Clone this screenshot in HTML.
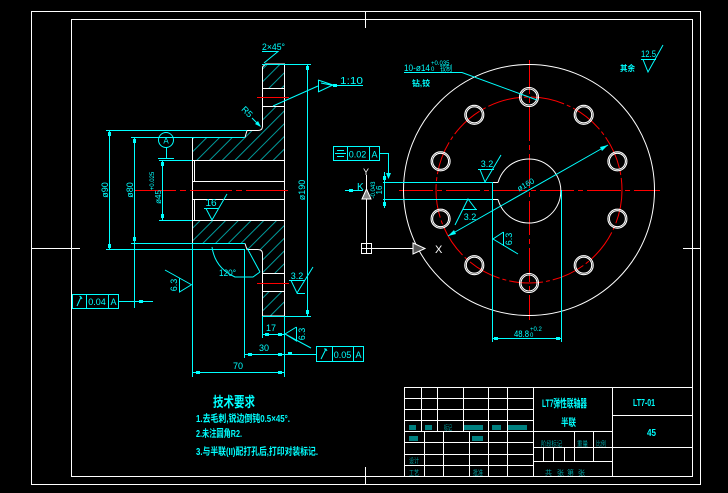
<!DOCTYPE html>
<html><head><meta charset="utf-8"><style>
html,body{margin:0;padding:0;background:#000;width:728px;height:493px;overflow:hidden}
svg{display:block}
text{font-family:"Liberation Sans","Noto Sans CJK SC",sans-serif}
</style></head><body>
<svg width="728" height="493" viewBox="0 0 728 493" xmlns="http://www.w3.org/2000/svg">
<defs>
<pattern id="h" width="9" height="9" patternUnits="userSpaceOnUse" patternTransform="rotate(45)">
<line x1="0.5" y1="0" x2="0.5" y2="9" stroke="#009a9a" stroke-width="1"/>
</pattern>
</defs>
<rect width="728" height="493" fill="#000"/>

<!-- borders -->
<g stroke="#fff" fill="none" stroke-width="1">
<rect x="31.5" y="11.5" width="669" height="473"/>
<rect x="71.5" y="19.5" width="621" height="457"/>
<path d="M365.5 11V28 M365.5 467V484 M31 248.5H80 M683 248.5H700"/>
</g>

<!-- title block -->
<g stroke="#fff" fill="none" stroke-width="1">
<path d="M404.5 387V476 M404 387.5H692 M533.5 387V476 M612.5 387V476"/>
<path d="M405 398.5H533 M405 409.5H533 M405 420.5H533 M405 431.5H612 M405 442.5H533 M405 454.5H533 M405 465.5H533"/>
<path d="M421.5 387V431 M437.5 387V431 M463.5 387V431 M488.5 387V476 M507.5 387V476"/>
<path d="M424.5 431V476 M443.5 431V476 M469.5 431V476"/>
<path d="M533 447.5H612 M533 461.5H612 M574.5 431V461 M593.5 431V461 M543.5 447V461 M553.5 447V461 M564.5 447V461"/>
<path d="M612 415.5H692 M612 447.5H692"/>
</g>
<g fill="#008080">
<rect x="409" y="425" width="7" height="5"/>
<rect x="425" y="425" width="7" height="5"/>
<rect x="464" y="425" width="19" height="5"/>
<rect x="492" y="425" width="9" height="5"/>
<rect x="508" y="425" width="19" height="5"/>
<rect x="409" y="436" width="9" height="5"/>
<rect x="472" y="436" width="11" height="5"/>
</g>
<g fill="#00a0a0" font-size="7">
<text x="444" y="430" textLength="8" lengthAdjust="spacingAndGlyphs">标记</text>
<text x="409" y="463" textLength="10" lengthAdjust="spacingAndGlyphs">设计</text>
<text x="409" y="475" textLength="10" lengthAdjust="spacingAndGlyphs">工艺</text>
<text x="473" y="475" textLength="10" lengthAdjust="spacingAndGlyphs">批准</text>
<text x="541" y="446" textLength="21" lengthAdjust="spacingAndGlyphs">阶段标记</text>
<text x="577" y="446" textLength="11" lengthAdjust="spacingAndGlyphs">重量</text>
<text x="596" y="446" textLength="10" lengthAdjust="spacingAndGlyphs">比例</text>
<text x="545" y="475">共</text><text x="557" y="475">张</text><text x="567" y="475">第</text><text x="578" y="475">张</text>
</g>
<g fill="#0ff">
<text x="542" y="407" font-size="11" font-weight="bold" textLength="45" lengthAdjust="spacingAndGlyphs">LT7弹性联轴器</text>
<text x="561" y="426" font-size="10" font-weight="bold" textLength="15" lengthAdjust="spacingAndGlyphs">半联</text>
<text x="633" y="406" font-size="10" font-weight="bold" textLength="22" lengthAdjust="spacingAndGlyphs">LT7-01</text>
<text x="647" y="436" font-size="10" font-weight="bold" textLength="9" lengthAdjust="spacingAndGlyphs">45</text>
</g>

<!-- technical requirements -->
<g fill="#0ff">
<text x="213" y="407" font-size="14" font-weight="bold" textLength="42" lengthAdjust="spacingAndGlyphs">技术要求</text>
<text x="196" y="422" font-size="10" font-weight="bold" textLength="94" lengthAdjust="spacingAndGlyphs">1.去毛刺,锐边倒钝0.5×45°.</text>
<text x="196" y="437" font-size="10" font-weight="bold" textLength="46" lengthAdjust="spacingAndGlyphs">2.未注圆角R2.</text>
<text x="196" y="455" font-size="10" font-weight="bold" textLength="122" lengthAdjust="spacingAndGlyphs">3.与半联(II)配打孔后,打印对装标记.</text>
</g>

<!-- LEFT VIEW -->
<path d="M262 67 L265 64 H284 V88 H262 Z" fill="url(#h)"/>
<path d="M262 106 H284 V160 H192 V137 H245 L247 130 H258 Q262 130 262 126 Z" fill="url(#h)"/>
<path d="M192 220 H284 V273 H262 V254 Q262 250 258 250 H247 L245 243 H192 Z" fill="url(#h)"/>
<path d="M262 291 H284 V313 L281 316 H262 Z" fill="url(#h)"/>

<g stroke="#fff" fill="none" stroke-width="1">
<path d="M192.5 137V243"/>
<path d="M245 137.5 L247 130.5 H258 Q262.5 130.5 262.5 126 V67 L265.5 64 H284.5 V316 H262.5 V254 Q262.5 249.5 258 249.5 H247 L245 243.5"/>
<path d="M192 160.5H284 M192 181.5H284 M192 199.5H284 M192 220.5H284 M194.5 160V181 M194.5 199V220"/>
<path d="M262 88.5H284 M262 106.5H284 M262 273.5H284 M262 291.5H284"/>
</g>
<g stroke="#f00" fill="none" stroke-width="1">
<path d="M134 190.5H289" stroke-dasharray="42 4 6 4"/>
<path d="M257 97.5H289 M257 283.5H289"/>
</g>

<g stroke="#0ff" fill="none" stroke-width="1">
<path d="M262 64.5H311 M262 316.5H311 M307.5 64V316"/>
<path d="M106 130.5H247 M106 249.5H245 M109.5 130V249"/>
<path d="M131 137.5H245 M131 243.5H245 M134.5 137V308"/>
<path d="M159 160.5H192 M159 220.5H192 M162.5 160V220"/>
<circle cx="166" cy="140" r="7.5"/>
<path d="M166.5 147.5V158 M158 158.5H174"/>
<!-- 2x45 -->
<path d="M262 51.5H278 L264 63"/>
<!-- R5 leader -->
<path d="M252 118 L260 126"/>
<!-- taper -->
<path d="M318.5 80V92 M318 80 L333 85 L318 92 M321 83 L333 85.5 M333 85.5H363 M318 86 L273 106"/>
<!-- roughness 16 -->
<path d="M204 208.5H218 M206 208.5 L212 220 L227 194"/>
<!-- roughness 6.3 left -->
<path d="M165 270 L192 285 M179.5 278V292 L191 285"/>
<!-- 120 deg -->
<path d="M212 247 Q215 268 235 277 H253 L260 272 M247 248 L260 272"/>
<!-- roughness 3.2 flange -->
<path d="M289 280.5H305 M291 280.5 L297 293 L313 267 M297 293.5H305"/>
<!-- GD&T 0.04 -->
<rect x="72.5" y="294.5" width="46" height="14"/>
<path d="M86.5 294V308 M108.5 294V308 M119 301.5H153"/>
<path d="M77 306 L81 297 M79.5 296 L81 297 L82 299"/>
<!-- dims bottom -->
<path d="M192.5 243V377 M244.5 249V358 M262.5 316V338 M284.5 316V377"/>
<path d="M262 334.5H284 M244 354.5H316 M192 372.5H284"/>
<!-- roughness 6.3 near 17 -->
<path d="M296.5 327V341 L285 334 L311 348 M296.5 327 L285 334"/>
<!-- GD&T 0.05 -->
<rect x="316.5" y="346.5" width="47" height="15"/>
<path d="M332.5 346V362 M353.5 346V362"/>
<path d="M321 359 L326 349 M324 349 L326 349 L327 351"/>
</g>
<g fill="#0ff">
<rect x="306" y="66" width="3" height="4"/><rect x="306" y="310" width="3" height="4"/>
<rect x="108" y="132" width="3" height="4"/><rect x="108" y="244" width="3" height="4"/>
<rect x="133" y="139" width="3" height="4"/><rect x="133" y="237" width="3" height="4"/>
<rect x="161" y="162" width="3" height="4"/><rect x="161" y="214" width="3" height="4"/>
<rect x="139" y="300" width="4" height="3"/>
<rect x="265" y="333" width="4" height="3"/><rect x="278" y="333" width="4" height="3"/>
<rect x="248" y="353" width="4" height="3"/><rect x="278" y="353" width="4" height="3"/><rect x="288" y="352" width="4" height="3"/>
<rect x="196" y="371" width="4" height="3"/><rect x="278" y="371" width="4" height="3"/>
<rect x="333" y="84" width="4" height="3"/>
<path d="M261 127 L255 124 L258 121 Z"/>
</g>
<g fill="#0ff" font-size="9">
<text x="262" y="50" textLength="23" lengthAdjust="spacingAndGlyphs">2×45°</text>
<text transform="translate(245,114) rotate(45)" text-anchor="middle">R5</text>
<text x="340" y="84" font-size="10" textLength="23" lengthAdjust="spacingAndGlyphs">1:10</text>
<text transform="translate(108,190) rotate(-90)" text-anchor="middle">ø90</text>
<text transform="translate(133,190) rotate(-90)" text-anchor="middle">ø80</text>
<text transform="translate(161,197) rotate(-90)" text-anchor="middle" font-size="8">ø45</text>
<text transform="translate(154,181) rotate(-90)" text-anchor="middle" font-size="6">+0.025</text>
<text transform="translate(305,190) rotate(-90)" text-anchor="middle">ø190</text>
<text x="211" y="206" text-anchor="middle" font-size="10">16</text>
<text transform="translate(177,285) rotate(-90)" text-anchor="middle">6.3</text>
<text x="219" y="276" textLength="17" lengthAdjust="spacingAndGlyphs">120°</text>
<text x="297" y="279" text-anchor="middle">3.2</text>
<text x="271" y="331" text-anchor="middle">17</text>
<text transform="translate(305,334) rotate(-90)" text-anchor="middle">6.3</text>
<text x="264" y="351" text-anchor="middle">30</text>
<text x="238" y="369" text-anchor="middle">70</text>
<text x="97" y="305" text-anchor="middle">0.04</text>
<text x="113.5" y="305" text-anchor="middle">A</text>
<text x="342.5" y="358" text-anchor="middle">0.05</text>
<text x="358.5" y="358" text-anchor="middle">A</text>
<text x="166" y="143.5" text-anchor="middle" font-size="8">A</text>
</g>

<!-- RIGHT VIEW -->
<g stroke="#f00" fill="none" stroke-width="1">
<circle cx="529" cy="190" r="93" stroke-dasharray="34 3 4 3"/>
<path d="M529.5 60V320 M399 190.5H660" stroke-dasharray="34 4 5 4"/>
</g>
<g stroke="#fff" fill="none" stroke-width="1">
<circle cx="529" cy="190" r="125.5"/>
<path d="M498 182.5 A32 32 0 1 1 498 199.5"/>
<path d="M498 182.5H492.5V199.5H498"/>
</g>
<g stroke="#fff" fill="none" stroke-width="1.1">
<circle cx="529" cy="97" r="8"/><circle cx="529" cy="97" r="9.5"/>
<circle cx="583.7" cy="114.8" r="8"/><circle cx="583.7" cy="114.8" r="9.5"/>
<circle cx="617.4" cy="161.3" r="8"/><circle cx="617.4" cy="161.3" r="9.5"/>
<circle cx="617.4" cy="218.7" r="8"/><circle cx="617.4" cy="218.7" r="9.5"/>
<circle cx="583.7" cy="265.2" r="8"/><circle cx="583.7" cy="265.2" r="9.5"/>
<circle cx="529" cy="283" r="8"/><circle cx="529" cy="283" r="9.5"/>
<circle cx="474.3" cy="265.2" r="8"/><circle cx="474.3" cy="265.2" r="9.5"/>
<circle cx="440.6" cy="218.7" r="8"/><circle cx="440.6" cy="218.7" r="9.5"/>
<circle cx="440.6" cy="161.3" r="8"/><circle cx="440.6" cy="161.3" r="9.5"/>
<circle cx="474.3" cy="114.8" r="8"/><circle cx="474.3" cy="114.8" r="9.5"/>
</g>

<g stroke="#0ff" fill="none" stroke-width="1">
<path d="M383 182.5H493 M383 199.5H493 M384.5 172V208"/>
<rect x="333.5" y="146.5" width="46" height="14"/>
<path d="M347.5 146V160 M369.5 146V160"/>
<path d="M337 150.5H344 M335 153.5H346 M337 156.5H344"/>
<path d="M380 153.5H388.5V176"/>
<path d="M345 190.5H363"/>
<path d="M608 145 L448 236"/>
<path d="M478 169.5H494 M480 169.5 L485 182 L501 155"/>
<path d="M463 209.5H477 M476 209.5 L468 199 L455 225"/>
<path d="M503.5 232V246 M503.5 232 L493 239 L518 254"/>
<path d="M492.5 182V342 M561.5 190V342 M492 338.5H561"/>
<path d="M404 72.5H462 L537 100"/>
<path d="M641 59.5H656 M643 59.5 L648 72 L663 45"/>
</g>
<g fill="#0ff">
<rect x="383" y="176" width="3" height="4"/><rect x="383" y="202" width="3" height="4"/>
<path d="M386 173 L391 173 L388.5 179 Z"/>
<rect x="349" y="189" width="4" height="3"/>
<rect x="494" y="337" width="4" height="3"/><rect x="556" y="337" width="4" height="3"/>
<path d="M608 145 L600 147 L602 151 Z"/>
<path d="M448 236 L456 234 L454 230 Z"/>
</g>
<g fill="#0ff" font-size="9">
<text x="357" y="190" font-size="10">K</text>
<text x="357.5" y="157.5" text-anchor="middle">0.02</text>
<text x="374.5" y="157.5" text-anchor="middle">A</text>
<text transform="translate(382,190) rotate(-90)" text-anchor="middle" font-size="8">16</text>
<text transform="translate(375,190) rotate(-90)" text-anchor="middle" font-size="6">-0.043</text>
<text transform="translate(527,187) rotate(-29.6)" text-anchor="middle" font-size="8">ø160</text>
<text x="487" y="167" text-anchor="middle">3.2</text>
<text x="470" y="220" text-anchor="middle">3.2</text>
<text transform="translate(512,239) rotate(-90)" text-anchor="middle">6.3</text>
<text x="514" y="337" textLength="15" lengthAdjust="spacingAndGlyphs">48.8</text>
<text x="530" y="331" font-size="6">+0.2</text>
<text x="530" y="337" font-size="6">0</text>
<text x="404" y="71" textLength="26" lengthAdjust="spacingAndGlyphs">10-ø14</text>
<text x="431" y="65" font-size="6">+0.035</text>
<text x="431" y="71" font-size="6">0</text>
<text x="440" y="71" font-size="8" textLength="12" lengthAdjust="spacingAndGlyphs">铰制</text>
<text x="412" y="86" font-size="8" font-weight="bold" textLength="18" lengthAdjust="spacingAndGlyphs">钻,铰</text>
<text x="620" y="71" font-size="8" font-weight="bold" textLength="15" lengthAdjust="spacingAndGlyphs">其余</text>
<text x="641" y="57" textLength="15" lengthAdjust="spacingAndGlyphs">12.5</text>
</g>

<!-- white view symbols -->
<g stroke="#fff" fill="none" stroke-width="1">
<path d="M366.5 175V243"/>
<path d="M362 199 L366.5 189 L371 199 Z" fill="#888"/>
<rect x="361.5" y="243.5" width="10" height="10"/>
<path d="M366.5 243V253 M361 248.5H371 M371 248.5H413"/>
<path d="M413 243 L425 248.5 L413 254 Z" fill="#555"/>
</g>
<g fill="#fff">
<text x="363" y="175" font-size="9">Y</text>
<text x="435" y="253" font-size="11">X</text>
</g>
</svg>
</body></html>
